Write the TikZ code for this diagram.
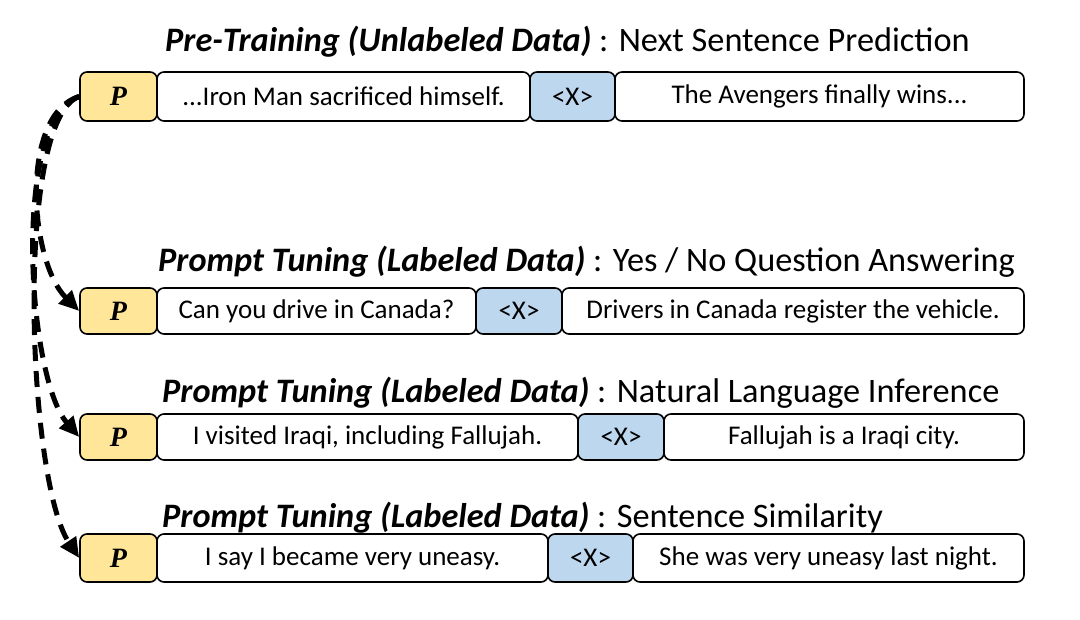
\documentclass[tikz,border=0pt]{standalone}
\usepackage{fontspec}
\setmainfont{Carlito}
\newfontfamily\pfont{Liberation Serif}
\usetikzlibrary{arrows.meta}
\definecolor{pyellow}{HTML}{FFE699}
\definecolor{xblue}{HTML}{BDD7EE}
\begin{document}
\begin{tikzpicture}[x=1pt,y=-1pt,
  cell/.style={draw=black,line width=1.6pt,rounded corners=7pt,inner sep=0pt,font=\fontsize{27}{30}\selectfont},
  pcell/.style={cell,fill=pyellow,minimum width=77pt,font=\pfont\fontsize{28}{30}\selectfont\bfseries\itshape},
  xcell/.style={cell,fill=xblue},
  tcell/.style={cell,fill=white},
  ttl/.style={anchor=base west,inner sep=0pt,font=\fontsize{34.3}{38}\selectfont},
  flow/.style={line width=5pt,dash pattern=on 16pt off 10pt,-{Triangle[length=20pt,width=18pt]}}
]
\useasboundingbox (0,0) rectangle (1080,620);
% row 1
\node[ttl] (t1) at (165,52) {\textbf{\textit{Pre-Training (Unlabeled Data)}} : Next Sentence Prediction};
\node[pcell,minimum height=49pt] (p1) at (118.5,96.5) {P};
\node[tcell,minimum width=373pt,minimum height=49pt] (a1) at (343.5,96.5) {...Iron Man sacrificed himself.};
\node[xcell,minimum width=85pt,minimum height=49pt] (x1) at (572.5,96.5) {<X>};
\node[tcell,minimum width=409pt,minimum height=49pt] (b1) at (819.5,96.5) {The Avengers finally wins...};
% row 2
\node[ttl] (t2) at (158,272) {\textbf{\textit{Prompt Tuning (Labeled Data)}} : Yes / No Question Answering};
\node[pcell,minimum height=46pt] (p2) at (118.5,311) {P};
\node[tcell,minimum width=319pt,minimum height=46pt] (a2) at (316.5,311) {Can you drive in Canada?};
\node[xcell,minimum width=86pt,minimum height=46pt] (x2) at (519,311) {<X>};
\node[tcell,minimum width=462pt,minimum height=46pt] (b2) at (793,311) {Drivers in Canada register the vehicle.};
% row 3
\node[ttl] (t3) at (162,403) {\textbf{\textit{Prompt Tuning (Labeled Data)}} : Natural Language Inference};
\node[pcell,minimum height=46pt] (p3) at (118.5,437) {P};
\node[tcell,minimum width=421pt,minimum height=46pt] (a3) at (367.5,437) {I visited Iraqi, including Fallujah.};
\node[xcell,minimum width=86pt,minimum height=46pt] (x3) at (621,437) {<X>};
\node[tcell,minimum width=360pt,minimum height=46pt] (b3) at (844,437) {Fallujah is a Iraqi city.};
% row 4
\node[ttl] (t4) at (162,527) {\textbf{\textit{Prompt Tuning (Labeled Data)}} : Sentence Similarity};
\node[pcell,minimum height=48pt] (p4) at (118.5,558) {P};
\node[tcell,minimum width=391pt,minimum height=48pt] (a4) at (352.5,558) {I say I became very uneasy.};
\node[xcell,minimum width=85pt,minimum height=48pt] (x4) at (590.5,558) {<X>};
\node[tcell,minimum width=391pt,minimum height=48pt] (b4) at (828.5,558) {She was very uneasy last night.};
% arrows
\draw[flow] (p1.west) .. controls +(-60,18) and +(-50,-50) .. (p2.west);
\draw[flow] (p1.west) .. controls +(-68,23) and +(-52,-60) .. (p3.west);
\draw[flow] (p1.west) .. controls +(-65,23) and +(-52,-78) .. (p4.west);
\end{tikzpicture}
\end{document}
